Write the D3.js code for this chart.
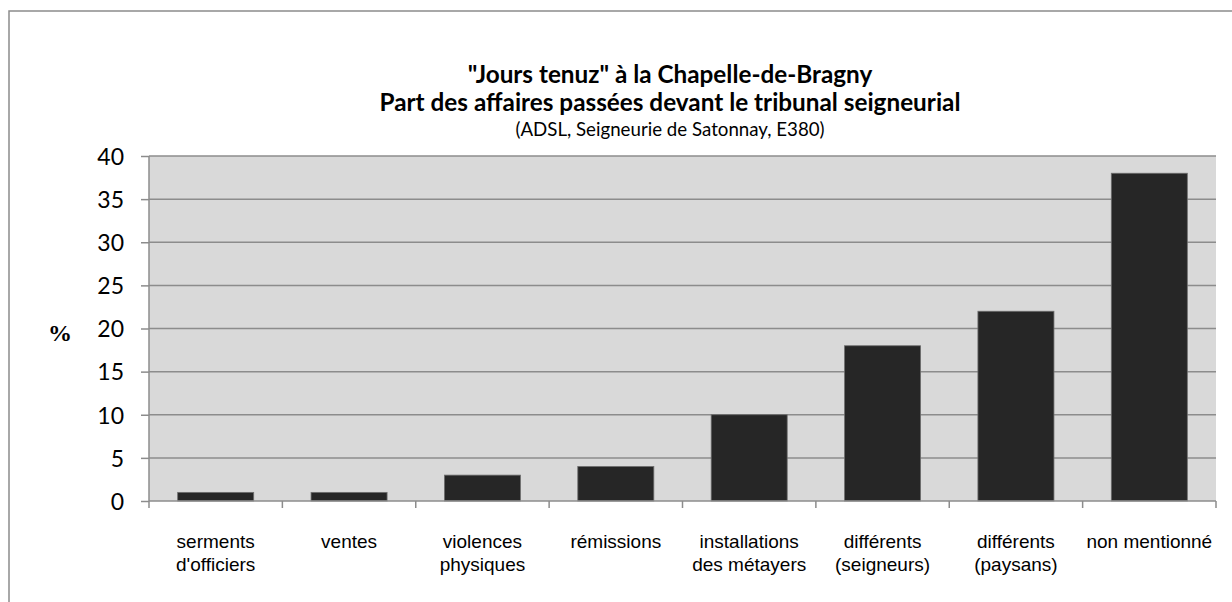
<!DOCTYPE html>
<html><head><meta charset="utf-8">
<script src="https://cdn.jsdelivr.net/npm/d3@7"></script>
<style>body{margin:0;background:#fff}svg{display:block}</style>
</head><body>
<svg id="c" width="1232" height="602"></svg>
<script>
const categories = [["serments","d'officiers"],["ventes"],["violences","physiques"],["rémissions"],["installations","des métayers"],["différents","(seigneurs)"],["différents","(paysans)"],["non mentionné"]];
const values = [1,1,3,4,10,18,22,38];
const yTicks = [0,5,10,15,20,25,30,35,40];
const titleLines = ["\"Jours tenuz\" à la Chapelle-de-Bragny","Part des affaires passées devant le tribunal seigneurial"];
const subtitle = "(ADSL, Seigneurie de Satonnay, E380)";

const svg = d3.select("#c");
const L=149,R=1216,T=156,B=501;
svg.append("path").attr("d","M9,602V11H1232").attr("fill","none").attr("stroke","#8c8c8c").attr("stroke-width",1.5);

const x = d3.scaleBand().domain(categories.map((d,i)=>i)).range([L,R]).paddingInner(0.43).paddingOuter(0.215);
const y = d3.scaleLinear().domain([0,40]).range([B,T]);

svg.append("rect").attr("x",L).attr("y",T).attr("width",R-L).attr("height",B-T).attr("fill","#d9d9d9");
svg.append("g").selectAll("line").data(yTicks.filter(d=>d>0)).join("line")
  .attr("x1",L).attr("x2",R).attr("y1",d=>y(d)).attr("y2",d=>y(d)).attr("stroke","#8c8c8c").attr("stroke-width",1.5);

svg.append("g").selectAll("rect").data(values).join("rect")
  .attr("x",(d,i)=>x(i)).attr("width",x.bandwidth()).attr("y",d=>y(d)).attr("height",d=>B-y(d))
  .attr("fill","#262626").attr("stroke","#6e6e6e").attr("stroke-width",0.8);

const ya = svg.append("g").attr("transform",`translate(${L},0)`).call(d3.axisLeft(y).tickValues(yTicks).tickSize(8).tickPadding(17));
ya.selectAll("path,line").attr("stroke","#8c8c8c").attr("stroke-width",1.5);
ya.select(".domain").attr("d",`M0,${T}V${B}`);
ya.selectAll("text").attr("font-family","Lato, 'Open Sans', sans-serif").attr("font-size",23).attr("fill","#000").attr("dy","0.36em");

const step = x.step();
const xa = svg.append("g");
xa.append("line").attr("x1",L).attr("x2",R).attr("y1",B).attr("y2",B).attr("stroke","#8c8c8c").attr("stroke-width",1.5);
xa.selectAll("line.t").data(d3.range(categories.length+1)).join("line").attr("class","t")
  .attr("x1",i=>L+i*step).attr("x2",i=>L+i*step).attr("y1",B).attr("y2",B+7).attr("stroke","#8c8c8c").attr("stroke-width",1.5);
const lab = xa.selectAll("text.l").data(categories).join("text").attr("class","l")
  .attr("text-anchor","middle").attr("font-family","'Liberation Sans', Arial, sans-serif").attr("font-size",19).attr("fill","#000");
lab.each(function(d,i){
  const t=d3.select(this);
  d.forEach((s,j)=>t.append("tspan").attr("x",x(i)+x.bandwidth()/2).attr("y",548+j*22.5).text(s));
});

svg.append("text").attr("x",60).attr("y",341).attr("text-anchor","middle").attr("font-family","'Liberation Serif', 'Times New Roman', serif").attr("font-weight","bold").attr("font-size",24).text("%");

const tf="Lato, 'Open Sans', sans-serif";
const cx=670;
svg.append("text").attr("x",cx).attr("y",83).attr("text-anchor","middle").attr("font-family",tf).attr("font-weight","bold").attr("font-size",24.3).text(titleLines[0]);
svg.append("text").attr("x",cx).attr("y",111).attr("text-anchor","middle").attr("font-family",tf).attr("font-weight","bold").attr("font-size",24.3).text(titleLines[1]);
svg.append("text").attr("x",cx).attr("y",136).attr("text-anchor","middle").attr("font-family",tf).attr("font-size",18.7).text(subtitle);
</script>
</body></html>
